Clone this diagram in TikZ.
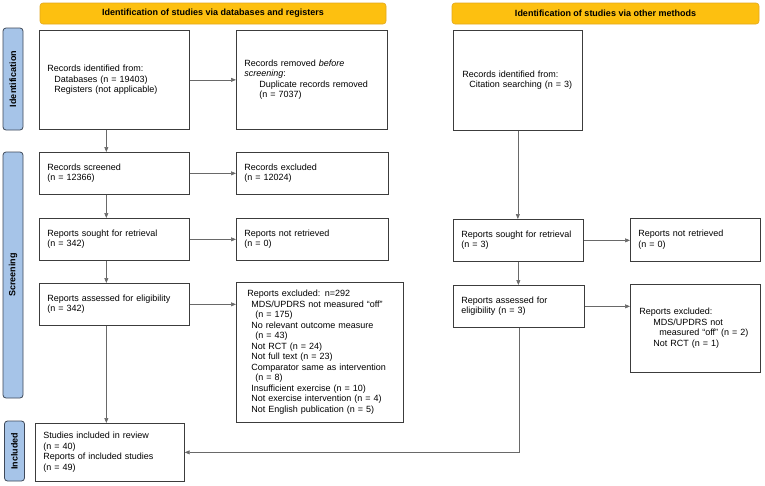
\documentclass[tikz,border=0pt]{standalone}
\usepackage{fontspec}
\setmainfont{Liberation Sans}
\usetikzlibrary{arrows.meta}
\definecolor{bannerfill}{RGB}{253,192,16}
\definecolor{bannerdraw}{RGB}{226,168,30}
\definecolor{phasefill}{RGB}{166,196,232}
\definecolor{phasedraw}{RGB}{62,72,88}
\definecolor{boxline}{RGB}{60,60,60}
\definecolor{flowline}{RGB}{105,105,105}

\begin{document}
\begin{tikzpicture}[x=1pt,y=-1pt,
  box/.style={draw=boxline,line width=0.7pt,fill=white,anchor=north west,align=left,
    inner xsep=8pt,inner ysep=1pt,font=\fontsize{9}{10.5}\selectfont},
  banner/.style={draw=bannerdraw,line width=0.6pt,fill=bannerfill,rounded corners=3pt,
    minimum height=21pt,inner sep=0pt,font=\fontsize{9}{10.5}\selectfont\bfseries},
  phase/.style={draw=phasedraw,line width=0.8pt,fill=phasefill,rounded corners=3pt,
    rotate=90,minimum height=20pt,inner sep=0pt,font=\fontsize{9}{10.5}\selectfont\bfseries},
  flow/.style={draw=flowline,line width=0.6pt,-{Triangle[length=5pt,width=4pt]}}]
\useasboundingbox (0,0) rectangle (765,485);

\node[banner,minimum width=346pt] (bnDb) at (213,13.5) {Identification of studies via databases and registers};
\node[banner,minimum width=307pt] (bnOther) at (605.5,13.5) {Identification of studies via other methods};

\node[phase,minimum width=102pt] (phId) at (13,79) {Identification};
\node[phase,minimum width=246pt] (phScr) at (13,275) {Screening};
\node[phase,minimum width=60pt] (phInc) at (14.5,451) {Included};

\node[box,minimum width=150pt,minimum height=99pt,text width=134pt] (recDb) at (39,30)
  {Records identified from:\\\hspace*{7pt}Databases (n = 19403)\\\hspace*{7pt}Registers (not applicable)};
\node[box,minimum width=151pt,minimum height=99pt,text width=135pt] (recRemoved) at (236,30)
  {Records removed \textit{before}\\\textit{screening}:\\\hspace*{15pt}Duplicate records removed\\\hspace*{15pt}(n = 7037)};
\node[box,minimum width=150pt,minimum height=42pt,text width=134pt] (recScreened) at (39,152)
  {Records screened\\(n = 12366)};
\node[box,minimum width=152pt,minimum height=42pt,text width=136pt] (recExcluded) at (236,152)
  {Records excluded\\(n = 12024)};
\node[box,minimum width=150pt,minimum height=42pt,text width=134pt] (repSought) at (39,218)
  {Reports sought for retrieval\\(n = 342)};
\node[box,minimum width=152pt,minimum height=42pt,text width=136pt] (repNotRetr) at (236,218)
  {Reports not retrieved\\(n = 0)};
\node[box,minimum width=150pt,minimum height=42pt,text width=134pt] (repAssessed) at (39,283)
  {Reports assessed for eligibility\\(n = 342)};
\node[box,minimum width=167pt,minimum height=140pt,text width=145pt,inner xsep=11pt] (repExcluded) at (236,282)
  {Reports excluded: n=292\\
   \hspace*{4pt}MDS/UPDRS not measured “off”\\
   \hspace*{8pt}(n = 175)\\
   \hspace*{4pt}No relevant outcome measure\\
   \hspace*{8pt}(n = 43)\\
   \hspace*{4pt}Not RCT (n = 24)\\
   \hspace*{4pt}Not full text (n = 23)\\
   \hspace*{4pt}Comparator same as intervention\\
   \hspace*{8pt}(n = 8)\\
   \hspace*{4pt}Insufficient exercise (n = 10)\\
   \hspace*{4pt}Not exercise intervention (n = 4)\\
   \hspace*{4pt}Not English publication (n = 5)};
\node[box,minimum width=149pt,minimum height=58pt,text width=133pt] (included) at (35,423)
  {Studies included in review\\(n = 40)\\Reports of included studies\\(n = 49)};

\node[box,minimum width=129pt,minimum height=100pt,text width=111pt,inner xsep=9pt] (othRec) at (453,30)
  {Records identified from:\\\hspace*{7pt}Citation searching (n = 3)};
\node[box,minimum width=130pt,minimum height=42pt,text width=114pt] (othSought) at (453,219)
  {Reports sought for retrieval\\(n = 3)};
\node[box,minimum width=130pt,minimum height=43pt,text width=114pt] (othNotRetr) at (630,218)
  {Reports not retrieved\\(n = 0)};
\node[box,minimum width=131pt,minimum height=42pt,text width=115pt] (othAssessed) at (453,285)
  {Reports assessed for\\eligibility (n = 3)};
\node[box,minimum width=130pt,minimum height=88pt,text width=112pt,inner xsep=9pt] (othExcluded) at (630,284)
  {Reports excluded:\\\hspace*{14pt}MDS/UPDRS not\\\hspace*{20pt}measured “off” (n = 2)\\\hspace*{14pt}Not RCT (n = 1)};

\draw[flow] (recDb) -- (recRemoved);
\draw[flow] ([xshift=-8pt]recDb.south) -- ([xshift=-8pt]recDb.south |- recScreened.north);
\draw[flow] (recScreened) -- (recExcluded);
\draw[flow] ([xshift=-8pt]recScreened.south) -- ([xshift=-8pt]recScreened.south |- repSought.north);
\draw[flow] (repSought) -- (repNotRetr);
\draw[flow] ([xshift=-8pt]repSought.south) -- ([xshift=-8pt]repSought.south |- repAssessed.north);
\draw[flow] (repAssessed.east) -- (repAssessed.east -| repExcluded.west);
\draw[flow] ([xshift=-8pt]repAssessed.south) -- ([xshift=-8pt]repAssessed.south |- included.north);
\draw[flow] (othRec.south) -- (othRec.south |- othSought.north);
\draw[flow] (othSought.east) -- (othSought.east -| othNotRetr.west);
\draw[flow] (othSought.south) -- (othSought.south |- othAssessed.north);
\draw[flow] (othAssessed.east) -- (othAssessed.east -| othExcluded.west);
\draw[flow] (othAssessed.south) |- (included.east);
\end{tikzpicture}
\end{document}
